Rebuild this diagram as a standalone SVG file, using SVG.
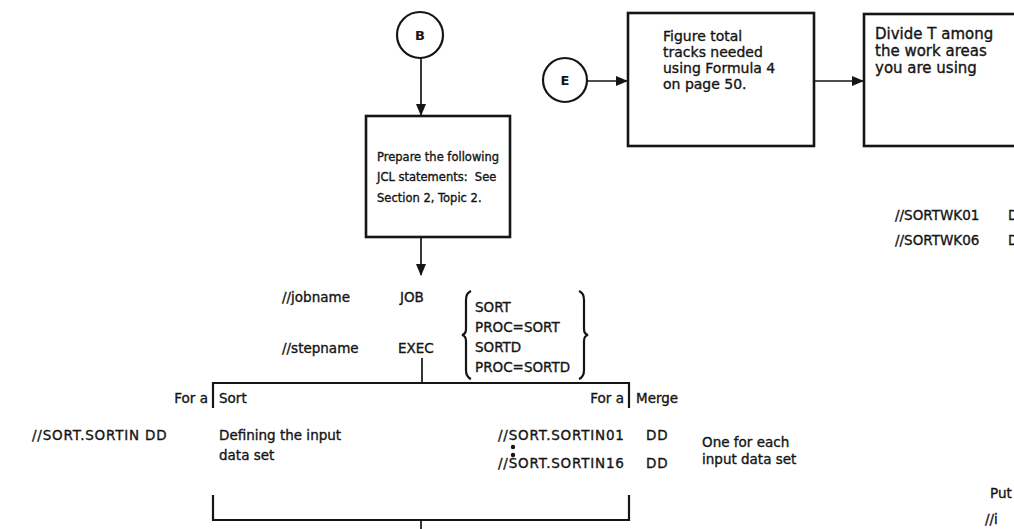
<svg xmlns="http://www.w3.org/2000/svg" width="1014" height="529" viewBox="0 0 1014 529">
<style>
text{font-family:"DejaVu Sans","Liberation Sans",sans-serif;fill:#151515;stroke:#151515;stroke-width:0.35}
.box{fill:#fff;stroke:#151515;stroke-width:2.6}
.circ{fill:#fff;stroke:#151515;stroke-width:2.2}
.ln{fill:none;stroke:#151515;stroke-width:1.7}
.br{fill:none;stroke:#151515;stroke-width:2.2}
.lbl{font-size:13px;font-weight:bold;text-anchor:middle;stroke-width:0}
.s{font-size:11.5px}
.m{font-size:13.5px}
.l{font-size:14px}
.xl{font-size:15px}
.sp{letter-spacing:0.8px}
</style>
<defs>
<marker id="ah" markerWidth="12" markerHeight="10" refX="11" refY="5" orient="auto" markerUnits="userSpaceOnUse"><path d="M0,0 L12,5 L0,10 z" fill="#151515"/></marker>
<clipPath id="cut"><rect x="0" y="0" width="1014" height="529"/></clipPath>
</defs>
<rect width="1014" height="529" fill="#fff"/>

<g id="connectors">
<line class="ln" x1="421" y1="58" x2="421" y2="115" marker-end="url(#ah)"/>
<line class="ln" x1="421" y1="237" x2="421" y2="275" marker-end="url(#ah)"/>
<line class="ln" x1="587" y1="81" x2="627" y2="81" marker-end="url(#ah)"/>
<line class="ln" x1="814" y1="81" x2="863" y2="81" marker-end="url(#ah)"/>
<line class="ln" x1="422" y1="358" x2="422" y2="383"/>
<path class="br" d="M213,408 V383 H629 V408"/>
<path class="br" d="M213,495 V520 H629 V495"/>
<line class="ln" x1="421" y1="520" x2="421" y2="529"/>
</g>

<g id="node-B">
<circle class="circ" cx="420" cy="35" r="23"/>
<text class="lbl" x="420" y="40">B</text>
</g>

<g id="node-prepare">
<rect class="box" x="366" y="116" width="144" height="121"/>
<text class="s" x="377" y="161">Prepare the following</text>
<text class="s" x="377" y="181" xml:space="preserve">JCL statements:  See</text>
<text class="s" x="377" y="202">Section 2, Topic 2.</text>
</g>

<g id="node-E">
<circle class="circ" cx="565" cy="80" r="22"/>
<text class="lbl" x="565" y="85">E</text>
</g>

<g id="node-figure">
<rect class="box" x="628" y="13" width="186" height="133"/>
<text class="l" x="663" y="41">Figure total</text>
<text class="l" x="663" y="57">tracks needed</text>
<text class="l" x="663" y="73">using Formula 4</text>
<text class="l" x="663" y="89">on page 50.</text>
</g>

<g id="node-divide">
<rect class="box" x="864" y="14" width="170" height="132"/>
<text class="xl" x="875" y="39">Divide T among</text>
<text class="xl" x="875" y="56">the work areas</text>
<text class="xl" x="875" y="73">you are using</text>
</g>

<g id="sortwk" clip-path="url(#cut)">
<text class="m" x="895" y="220">//SORTWK01</text>
<text class="m" x="1008" y="220">D</text>
<text class="m" x="895" y="245">//SORTWK06</text>
<text class="m" x="1008" y="245">D</text>
</g>

<g id="jcl">
<text class="m" x="282" y="302">//jobname</text>
<text class="m" x="400" y="302">JOB</text>
<text class="m" x="282" y="353">//stepname</text>
<text class="m" x="398" y="353">EXEC</text>
<path class="br" d="M471,291 Q466,293 466,300 V329 Q466,334 462,335 Q466,336 466,341 V370 Q466,377 471,379"/>
<path class="br" d="M579,291 Q584,293 584,300 V329 Q584,334 588,335 Q584,336 584,341 V370 Q584,377 579,379"/>
<text class="m" x="475" y="312">SORT</text>
<text class="m" x="475" y="332">PROC=SORT</text>
<text class="m" x="475" y="352">SORTD</text>
<text class="m" x="475" y="372">PROC=SORTD</text>
</g>

<g id="sort-branch">
<text class="m" x="208" y="403" text-anchor="end">For a</text>
<text class="m" x="219" y="403">Sort</text>
<text class="m sp" x="32" y="440" xml:space="preserve">//SORT.SORTIN DD</text>
<text class="m" x="219" y="440">Defining the input</text>
<text class="m" x="219" y="460">data set</text>
</g>

<g id="merge-branch">
<text class="m" x="624" y="403" text-anchor="end">For a</text>
<text class="m" x="636" y="403">Merge</text>
<text class="m sp" x="498" y="440">//SORT.SORTIN01</text>
<text class="m sp" x="646" y="440">DD</text>
<circle cx="513" cy="447" r="2.2" fill="#151515"/>
<circle cx="513" cy="455" r="2.2" fill="#151515"/>
<text class="m sp" x="498" y="468">//SORT.SORTIN16</text>
<text class="m sp" x="646" y="468">DD</text>
<text class="m" x="702" y="447">One for each</text>
<text class="m" x="702" y="464">input data set</text>
</g>

<g id="put" clip-path="url(#cut)">
<text class="m" x="990" y="498">Put</text>
<text class="m" x="985" y="524">//i</text>
</g>
</svg>
